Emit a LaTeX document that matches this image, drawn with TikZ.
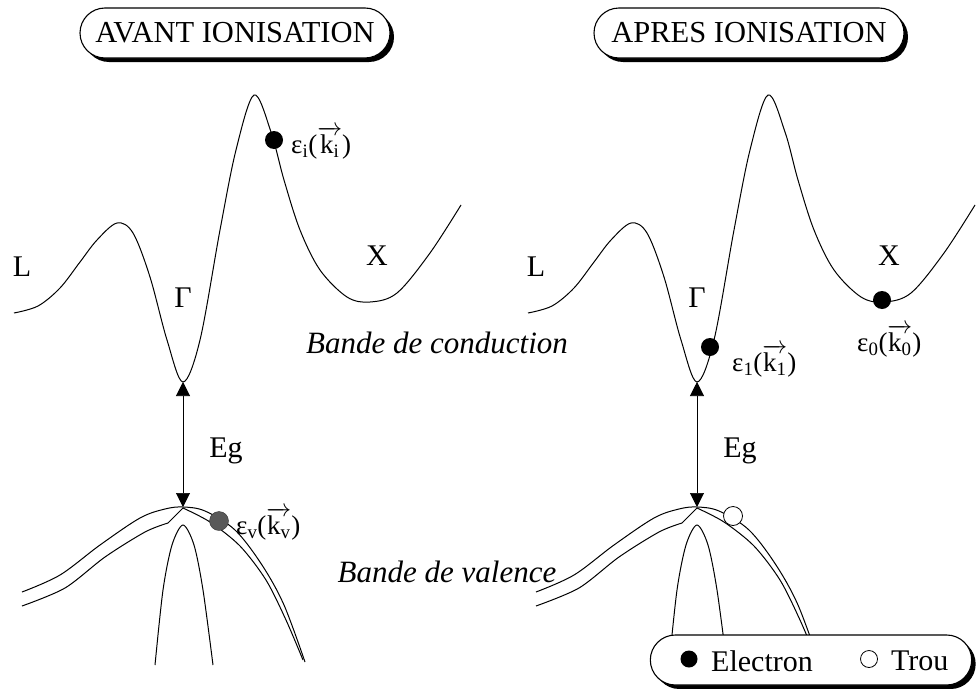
\documentclass[tikz,border=0pt]{standalone}
\usepackage{fontspec}
\setmainfont{Liberation Serif}
\usetikzlibrary{shapes.misc,shadows,arrows.meta}
\newcommand{\condband}{plot[smooth,tension=0.55] coordinates {(14,313) (38,306) (60,288) (80,262) (97,240) (117,223) (133,233) (150,277) (167,340) (183,382) (200,340) (220,230) (236,150) (254,95) (271,132) (284,180) (300,230) (320,270) (347,297) (370,302) (397,293) (430,253) (461,205)}}
\newcommand{\valup}{plot[smooth,tension=0.55] coordinates {(22,592) (60,575) (100,545) (140,518) (165,509) (183,507) (205,511) (235,530) (262,565) (284,605) (305,662)}}
\newcommand{\vallow}{plot[smooth,tension=0.5] coordinates {(22,606) (65,588) (105,557) (145,532) (168,523)} -- (183,508) plot[smooth,tension=0.5] coordinates {(183,508) (210,522) (240,546) (266,580) (286,620) (303,660)}}
\newcommand{\lighthole}{plot[smooth,tension=0.5] coordinates {(155,665) (163,590) (172,545) (183,525) (194,545) (203,590) (213,665)}}
\begin{document}
\begin{tikzpicture}[x=1pt,y=-1pt,
  band/.style={line width=1pt},
  titlebox/.style={rounded rectangle, draw, line width=1.1pt, fill=white,
    font=\fontsize{30.5}{31}\selectfont, minimum height=50pt, minimum width=314pt, inner xsep=2pt,
    drop shadow={shadow xshift=4pt, shadow yshift=-4pt, fill=black, opacity=1}},
  lbl/.style={font=\fontsize{30}{31}\selectfont, inner sep=0pt},
  itl/.style={font=\fontsize{31}{32}\selectfont\itshape, inner sep=0pt},
  eps/.style={font=\fontsize{27}{28}\selectfont, inner sep=0pt, anchor=west},
  edot/.style={circle, fill=black, inner sep=0pt, minimum size=18pt},
  vdot/.style={circle, fill=black!65, draw=black!80, inner sep=0pt, minimum size=19pt},
  hdot/.style={circle, fill=white, draw=black, line width=0.8pt, inner sep=0pt, minimum size=19pt},
  gap/.style={line width=0.6pt, {Triangle[length=14pt,width=14pt]}-{Triangle[length=14pt,width=14pt]}}
]
\useasboundingbox (0,0) rectangle (979,688);
\fill[white] (0,0) rectangle (979,688);

% titles
\node[titlebox] (t1) at (235,33) {AVANT IONISATION};
\node[titlebox] (t2) at (749,33) {APRES IONISATION};

% bands left
\draw[band] \condband;
\draw[band] \valup;
\draw[band] \vallow;
\draw[band] \lighthole;
% bands right
\begin{scope}[xshift=514pt]
\draw[band] \condband;
\draw[band] \valup;
\draw[band] \vallow;
\draw[band] \lighthole;
\end{scope}

% gap arrows
\coordinate (g1t) at (183,382);
\coordinate (g1b) at (183,507);
\coordinate (g2t) at (697,382);
\coordinate (g2b) at (697,507);
\draw[gap] (g1t) -- (g1b);
\draw[gap] (g2t) -- (g2b);
\node[lbl] (eg1) at (226,451) {Eg};
\node[lbl] (eg2) at (740,451) {Eg};

% valley labels
\node[lbl] (L1) at (22,267) {L};
\node[lbl] (X1) at (377,256) {X};
\node[lbl] (G1) at (183,298) {Γ};
\node[lbl] (L2) at (536,267) {L};
\node[lbl] (X2) at (889,256) {X};
\node[lbl] (G2) at (697,298) {Γ};

\node[itl] (cb) at (437,343) {Bande de conduction};
\node[itl] (vb) at (447,572) {Bande de valence};

% carriers left
\node[edot] (ei) at (274,140) {};
\node[eps] (eit) at (291,143) {ε\textsubscript{i}($\overrightarrow{\hbox{k\textsubscript{i}}}$)};
\node[vdot] (ev) at (219,521) {};
\node[eps] (evt) at (236,524) {ε\textsubscript{v}($\overrightarrow{\hbox{k\textsubscript{v}}}$)};

% carriers right
\node[edot] (e1) at (710,347) {};
\node[eps] (e1t) at (732,361) {ε\textsubscript{1}($\overrightarrow{\hbox{k\textsubscript{1}}}$)};
\node[edot] (e0) at (882,300) {};
\node[eps] (e0t) at (857,341) {ε\textsubscript{0}($\overrightarrow{\hbox{k\textsubscript{0}}}$)};
\node[hdot] (h) at (733,516) {};

% legend
\node[rounded rectangle, draw, line width=1.1pt, fill=white, minimum width=328pt, minimum height=50pt,
  drop shadow={shadow xshift=4pt, shadow yshift=-4pt, fill=black, opacity=1}] (leg) at (811,660) {};
\node[edot, minimum size=17pt] (lde) at (689,659) {};
\node[lbl, anchor=west] (lte) at (711,661) {Electron};
\node[hdot, minimum size=17pt] (ldh) at (869,659) {};
\node[lbl, anchor=west] (lth) at (891,661) {Trou};
\end{tikzpicture}
\end{document}
